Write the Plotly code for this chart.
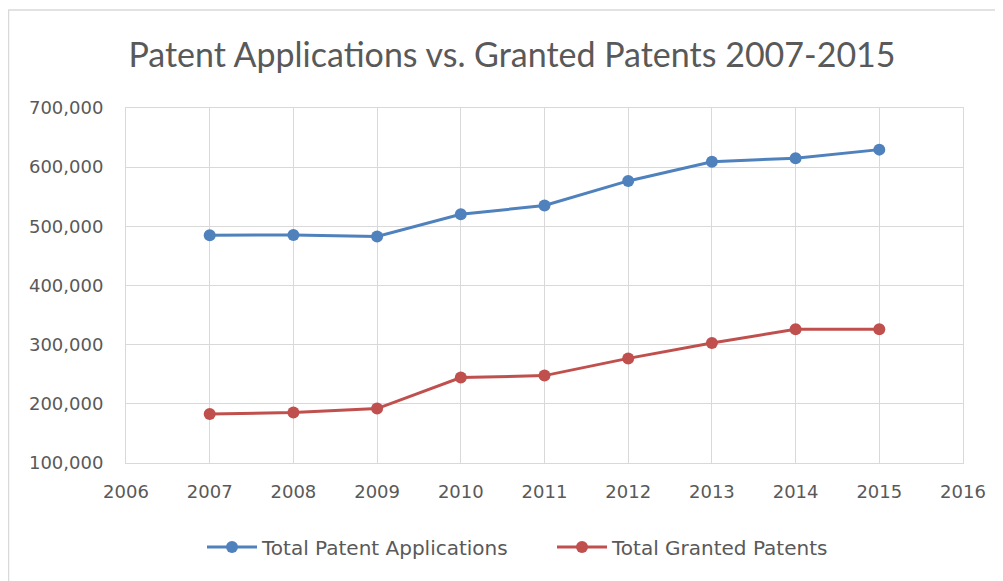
import plotly.graph_objects as go

years = [2007, 2008, 2009, 2010, 2011, 2012, 2013, 2014, 2015]
applications = [484955, 485312, 482871, 520277, 535188, 576763, 609052, 615243, 629647]
granted = [182899, 185224, 191927, 244341, 247713, 276788, 302948, 326032, 325979]
series_names = ["Total Patent Applications", "Total Granted Patents"]
colors = ["#4f81bd", "#c0504d"]

# the page body has an 8px margin, so figure coords = screen coords - 8
W, H = 995, 573
L, R, T, B = 118, 40, 100, 118
pw, ph = W - L - R, H - T - B

fig = go.Figure()
for name, vals, c in zip(series_names, [applications, granted], colors):
    fig.add_trace(go.Scatter(
        x=years, y=vals, name=name, mode="lines+markers",
        line=dict(color=c, width=3),
        marker=dict(color=c, size=12, symbol="circle"),
    ))

text_col = "#595959"
grid_col = "#d9d9d9"
tick_font = dict(family="DejaVu Sans", size=18, color=text_col)

def px_x(p):
    return (p - L) / pw

def px_y(p):
    return (H - B - p) / ph

fig.update_layout(
    width=W, height=H,
    margin=dict(l=L, r=R, t=T, b=B),
    paper_bgcolor="white", plot_bgcolor="white",
    font=dict(family="Lato, 'Open Sans', sans-serif", color=text_col, size=16),
    title=dict(text="Patent Applications vs. Granted Patents 2007-2015",
               x=504 / W, xanchor="center", y=1 - 47 / H, yanchor="middle",
               font=dict(family="Lato", size=34, color=text_col)),
    xaxis=dict(range=[2006, 2016], dtick=1, tick0=2006,
               showgrid=True, gridcolor=grid_col, gridwidth=1,
               showline=True, linecolor=grid_col, linewidth=1, mirror=True,
               zeroline=False, ticks="", ticklabelstandoff=12,
               tickfont=tick_font),
    yaxis=dict(range=[100000, 700000], dtick=100000, tick0=100000,
               tickformat=",", showgrid=True, gridcolor=grid_col, gridwidth=1,
               showline=True, linecolor=grid_col, linewidth=1, mirror=True,
               zeroline=False, ticks="", ticklabelstandoff=18,
               tickfont=tick_font),
    legend=dict(orientation="h", x=px_x(544), xanchor="center",
                y=px_y(539), yanchor="middle",
                font=dict(family="DejaVu Sans", size=20, color=text_col),
                itemwidth=50, entrywidth=285, tracegroupgap=0),
    shapes=[dict(type="rect", xref="paper", yref="paper",
                 x0=px_x(0.5), x1=px_x(1010), y0=px_y(590), y1=px_y(2),
                 line=dict(color="#d9d9d9", width=1.5), layer="below")],
)

fig.write_html("out.html")
